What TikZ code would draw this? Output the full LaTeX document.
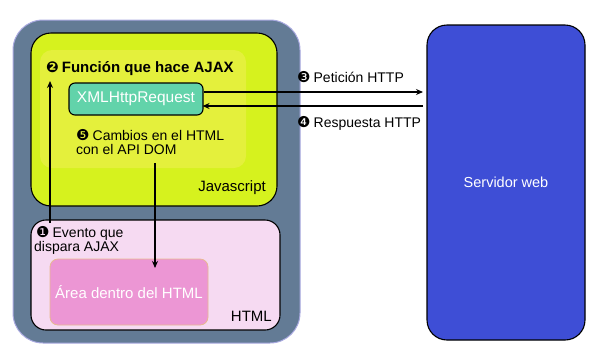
\documentclass[tikz,border=0pt]{standalone}
\usepackage{fontspec}
\setmainfont{Liberation Sans}
\newfontfamily\dings{DejaVu Sans}
\usetikzlibrary{arrows.meta,positioning}
\definecolor{slate}{HTML}{637B95}
\definecolor{slateedge}{HTML}{A9A9E0}
\definecolor{jsyellow}{HTML}{D6F21E}
\definecolor{jsinner}{HTML}{E4F03C}
\definecolor{xmlteal}{HTML}{62D3AA}
\definecolor{htmlpink}{HTML}{F6DAF2}
\definecolor{areapink}{HTML}{EC96D4}
\definecolor{areaedge}{HTML}{E8B890}
\definecolor{serverblue}{HTML}{3E4ED6}
\tikzset{
  box/.style={draw=black,line width=1.1pt},
  lbl/.style={inner sep=0pt,font=\fontsize{14}{14.5}\selectfont,text=black},
  conn/.style={line width=1.3pt,-{Stealth[length=7pt,width=6pt]}}
}
\newcommand{\dn}[1]{{\dings\fontsize{15}{15}\selectfont #1}\hspace{3pt}}
\begin{document}
\begin{tikzpicture}[x=1pt,y=-1pt]
\useasboundingbox (0,0) rectangle (596,354);
% outer slate area
\draw[fill=slate,draw=slateedge,line width=1pt,rounded corners=30pt] (13,20) rectangle (300,343);
% javascript box
\draw[box,fill=jsyellow,rounded corners=20pt] (31,33) rectangle (277,206);
\fill[jsinner,rounded corners=12pt] (40,50) rectangle (246,168);
\node[lbl,anchor=south east,font=\fontsize{15}{15}\selectfont] (js) at (266,195) {Javascript};
% title
\node[lbl,anchor=west,font=\bfseries\fontsize{15}{15}\selectfont] (fun) at (46,69) {\dn{❷}Función que hace AJAX};
% XMLHttpRequest
\node[box,fill=xmlteal,rounded corners=6pt,minimum width=134pt,minimum height=32pt,inner sep=0pt,text=white,font=\fontsize{15.5}{15.5}\selectfont] (xml) at (136,99) {XMLHttpRequest};
% cambios
\node[lbl,align=left,anchor=north west] (camb) at (76,129) {\dn{❺}Cambios en el HTML\\con el API DOM};
% HTML box
\draw[box,fill=htmlpink,rounded corners=15pt] (31,220) rectangle (280,330);
\node[lbl,anchor=south east,font=\fontsize{15}{15}\selectfont] (html) at (272,322) {HTML};
\node[lbl,align=left,anchor=north west] (evt) at (34,226) {\hspace{2pt}\dn{❶}Evento que\\dispara AJAX};
\node[draw=areaedge,line width=0.8pt,fill=areapink,rounded corners=8pt,minimum width=158pt,minimum height=66pt,inner sep=0pt,text=white,font=\fontsize{15}{15}\selectfont] (area) at (129,292) {Área dentro del HTML};
% server
\node[box,fill=serverblue,rounded corners=20pt,minimum width=158pt,minimum height=315pt,inner sep=0pt,text=white,font=\fontsize{14.5}{14.5}\selectfont] (srv) at (506,182.5) {Servidor web};
% connectors
\coordinate (evtop) at (50,223);
\coordinate (funbot) at (50,81);
\draw[conn] (evtop) -- (funbot);
\coordinate (cambot) at (155,163);
\coordinate (areain) at (155,268);
\draw[conn] (cambot) -- (areain);
\coordinate (reqA) at (xml.east |- 0,92);
\coordinate (reqB) at (423,92);
\draw[conn] (reqA) -- (reqB);
\coordinate (resA) at (423,106);
\coordinate (resB) at ([xshift=-1pt]xml.east |- 0,106);
\draw[conn] (resA) -- (resB);
\node[lbl,anchor=west] (pet) at (297,77) {\dn{❸}Petición HTTP};
\node[lbl,anchor=west] (resp) at (297,123) {\dn{❹}Respuesta HTTP};
\end{tikzpicture}
\end{document}
